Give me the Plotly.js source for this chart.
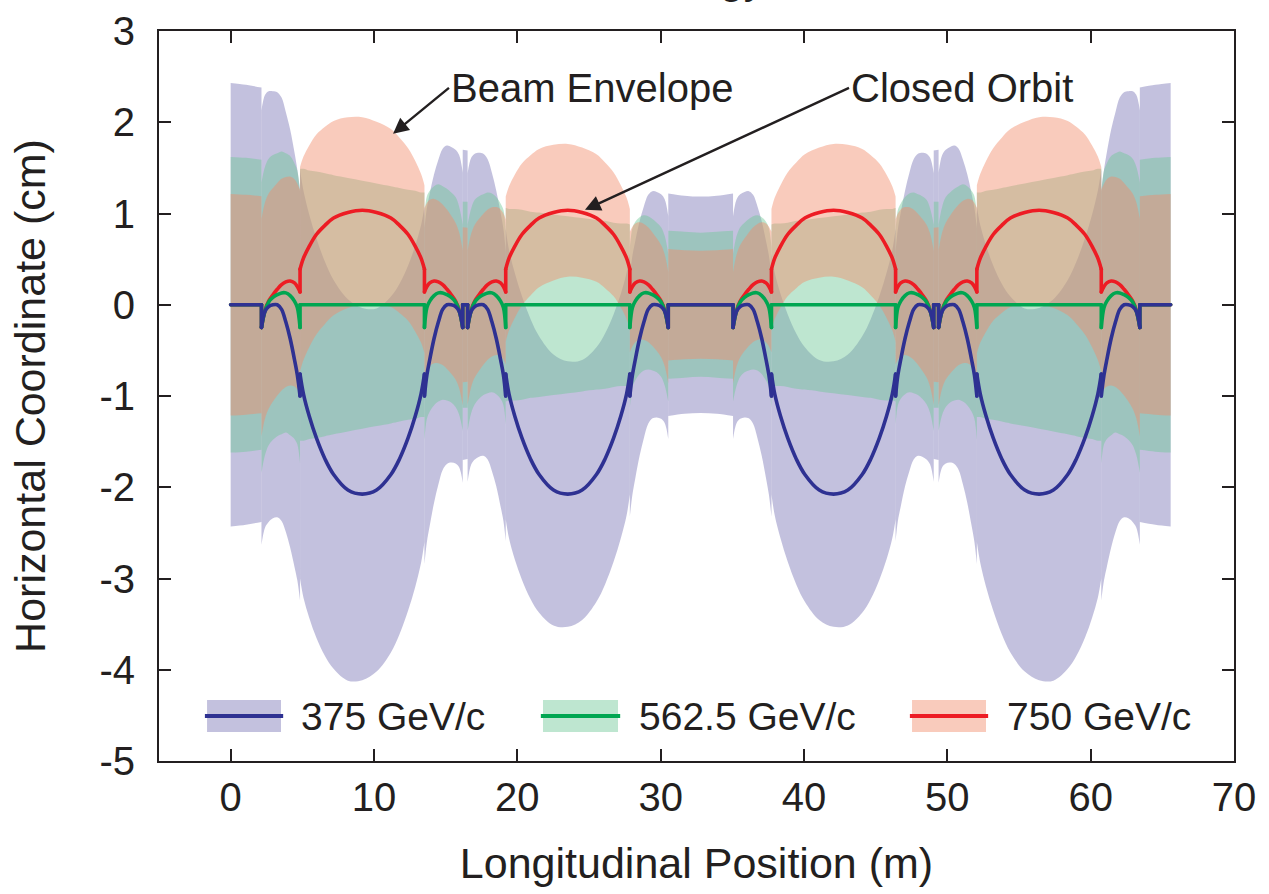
<!DOCTYPE html>
<html>
<head>
<meta charset="utf-8">
<script src="https://cdn.plot.ly/plotly-3.0.1.min.js"></script>
<style>
  html, body { margin: 0; padding: 0; background: #fff; }
  #chart { width: 1269px; height: 894px; }
  .scatterlayer .js-line { stroke-linecap: round; stroke-linejoin: round; }
</style>
</head>
<body>
<div id="chart"></div>
<script>
// Longitudinal sample positions (m); a repeated value marks an element edge where the orbit jumps
const positions = [
  0, 1.07, 2.15,
  2.15, 2.40, 2.65, 2.95, 3.25, 3.55, 3.85, 4.15, 4.45, 4.65, 4.84,
  4.84, 5.08, 5.48, 5.98, 6.58, 7.18, 8.18, 9.18, 10.18, 11.18, 11.78, 12.38, 12.88, 13.28, 13.52,
  13.52, 13.69, 13.89, 14.19, 14.49, 14.79, 15.09, 15.39, 15.69, 15.94, 16.19,
  16.19, 16.53,
  16.53, 16.78, 17.03, 17.33, 17.63, 17.93, 18.23, 18.53, 18.83, 19.03, 19.19,
  19.19, 19.42, 19.82, 20.32, 20.92, 21.52, 22.52, 23.52, 24.52, 25.52, 26.12, 26.72, 27.22, 27.62, 27.85,
  27.85, 28.03, 28.23, 28.53, 28.83, 29.13, 29.43, 29.73, 30.03, 30.28, 30.53,
  30.53, 31.66, 32.79, 33.92, 35.05,
  35.05, 35.30, 35.55, 35.85, 36.15, 36.45, 36.75, 37.05, 37.35, 37.55, 37.73,
  37.73, 37.96, 38.36, 38.86, 39.46, 40.06, 41.06, 42.06, 43.06, 44.06, 44.66, 45.26, 45.76, 46.16, 46.39,
  46.39, 46.55, 46.75, 47.05, 47.35, 47.65, 47.95, 48.25, 48.55, 48.80, 49.05,
  49.05, 49.39,
  49.39, 49.64, 49.89, 50.19, 50.49, 50.79, 51.09, 51.39, 51.69, 51.89, 52.06,
  52.06, 52.30, 52.70, 53.20, 53.80, 54.40, 55.40, 56.40, 57.40, 58.40, 59.00, 59.60, 60.10, 60.50, 60.74,
  60.74, 60.93, 61.13, 61.43, 61.73, 62.03, 62.33, 62.63, 62.93, 63.18, 63.43,
  63.43, 64.51, 65.58
];

// Closed orbit (cm) at 375 GeV/c
const orbit375 = [
  0, 0, 0,
  -0.25, -0.07, -0.02, 0, 0, -0.05, -0.19, -0.37, -0.6, -0.77, -1,
  -0.76, -0.98, -1.22, -1.46, -1.69, -1.86, -2.03, -2.075, -2.03, -1.86, -1.69, -1.46, -1.22, -0.98, -0.76,
  -1, -0.77, -0.6, -0.37, -0.19, -0.05, 0, 0, -0.02, -0.07, -0.25,
  0, 0,
  -0.25, -0.07, -0.02, 0, 0, -0.05, -0.19, -0.37, -0.6, -0.77, -1,
  -0.76, -0.98, -1.22, -1.46, -1.69, -1.86, -2.03, -2.075, -2.03, -1.86, -1.69, -1.46, -1.22, -0.98, -0.76,
  -1, -0.77, -0.6, -0.37, -0.19, -0.05, 0, 0, -0.02, -0.07, -0.25,
  0, 0, 0, 0, 0,
  -0.25, -0.07, -0.02, 0, 0, -0.05, -0.19, -0.37, -0.6, -0.77, -1,
  -0.76, -0.98, -1.22, -1.46, -1.69, -1.86, -2.03, -2.075, -2.03, -1.86, -1.69, -1.46, -1.22, -0.98, -0.76,
  -1, -0.77, -0.6, -0.37, -0.19, -0.05, 0, 0, -0.02, -0.07, -0.25,
  0, 0,
  -0.25, -0.07, -0.02, 0, 0, -0.05, -0.19, -0.37, -0.6, -0.77, -1,
  -0.76, -0.98, -1.22, -1.46, -1.69, -1.86, -2.03, -2.075, -2.03, -1.86, -1.69, -1.46, -1.22, -0.98, -0.76,
  -1, -0.77, -0.6, -0.37, -0.19, -0.05, 0, 0, -0.02, -0.07, -0.25,
  0, 0, 0
];

// Closed orbit (cm) at 562.5 GeV/c
const orbit5625 = [
  0, 0, 0,
  -0.25, -0.065, 0.03, 0.08, 0.11, 0.13, 0.13, 0.1, 0.04, -0.03, -0.25,
  0, 0, 0, 0, 0, 0, 0, 0, 0, 0, 0, 0, 0, 0, 0,
  -0.25, -0.03, 0.04, 0.1, 0.13, 0.13, 0.11, 0.08, 0.03, -0.065, -0.25,
  0, 0,
  -0.25, -0.065, 0.03, 0.08, 0.11, 0.13, 0.13, 0.1, 0.04, -0.03, -0.25,
  0, 0, 0, 0, 0, 0, 0, 0, 0, 0, 0, 0, 0, 0, 0,
  -0.25, -0.03, 0.04, 0.1, 0.13, 0.13, 0.11, 0.08, 0.03, -0.065, -0.25,
  0, 0, 0, 0, 0,
  -0.25, -0.065, 0.03, 0.08, 0.11, 0.13, 0.13, 0.1, 0.04, -0.03, -0.25,
  0, 0, 0, 0, 0, 0, 0, 0, 0, 0, 0, 0, 0, 0, 0,
  -0.25, -0.03, 0.04, 0.1, 0.13, 0.13, 0.11, 0.08, 0.03, -0.065, -0.25,
  0, 0,
  -0.25, -0.065, 0.03, 0.08, 0.11, 0.13, 0.13, 0.1, 0.04, -0.03, -0.25,
  0, 0, 0, 0, 0, 0, 0, 0, 0, 0, 0, 0, 0, 0, 0,
  -0.25, -0.03, 0.04, 0.1, 0.13, 0.13, 0.11, 0.08, 0.03, -0.065, -0.25,
  0, 0, 0
];

// Closed orbit (cm) at 750 GeV/c
const orbit750 = [
  0, 0, 0,
  -0.25, -0.06, 0.04, 0.11, 0.17, 0.22, 0.25, 0.26, 0.24, 0.2, 0.14,
  0.39, 0.51, 0.64, 0.77, 0.87, 0.95, 1.01, 1.035, 1.01, 0.95, 0.87, 0.77, 0.64, 0.51, 0.39,
  0.14, 0.2, 0.24, 0.26, 0.25, 0.22, 0.17, 0.11, 0.04, -0.06, -0.25,
  0, 0,
  -0.25, -0.06, 0.04, 0.11, 0.17, 0.22, 0.25, 0.26, 0.24, 0.2, 0.14,
  0.39, 0.51, 0.64, 0.77, 0.87, 0.95, 1.01, 1.035, 1.01, 0.95, 0.87, 0.77, 0.64, 0.51, 0.39,
  0.14, 0.2, 0.24, 0.26, 0.25, 0.22, 0.17, 0.11, 0.04, -0.06, -0.25,
  0, 0, 0, 0, 0,
  -0.25, -0.06, 0.04, 0.11, 0.17, 0.22, 0.25, 0.26, 0.24, 0.2, 0.14,
  0.39, 0.51, 0.64, 0.77, 0.87, 0.95, 1.01, 1.035, 1.01, 0.95, 0.87, 0.77, 0.64, 0.51, 0.39,
  0.14, 0.2, 0.24, 0.26, 0.25, 0.22, 0.17, 0.11, 0.04, -0.06, -0.25,
  0, 0,
  -0.25, -0.06, 0.04, 0.11, 0.17, 0.22, 0.25, 0.26, 0.24, 0.2, 0.14,
  0.39, 0.51, 0.64, 0.77, 0.87, 0.95, 1.01, 1.035, 1.01, 0.95, 0.87, 0.77, 0.64, 0.51, 0.39,
  0.14, 0.2, 0.24, 0.26, 0.25, 0.22, 0.17, 0.11, 0.04, -0.06, -0.25,
  0, 0, 0
];

// Beam envelope half-width (cm) around the orbit, 375 GeV/c
const half375 = [
  2.43, 2.41, 2.38,
  2.38, 2.37, 2.36, 2.34, 2.33, 2.32, 2.30, 2.29, 2.27, 2.25, 2.24,
  2.24, 2.23, 2.21, 2.19, 2.16, 2.13, 2.09, 2.04, 1.99, 1.95, 1.92, 1.89, 1.87, 1.85, 1.84,
  1.84, 1.83, 1.82, 1.80, 1.78, 1.76, 1.745, 1.73, 1.72, 1.71, 1.70,
  1.70, 1.69,
  1.69, 1.68, 1.675, 1.665, 1.655, 1.645, 1.635, 1.62, 1.61, 1.60, 1.59,
  1.59, 1.58, 1.57, 1.555, 1.535, 1.515, 1.485, 1.455, 1.425, 1.395, 1.375, 1.355, 1.34, 1.33, 1.32,
  1.32, 1.31, 1.30, 1.285, 1.27, 1.255, 1.245, 1.235, 1.23, 1.225, 1.22,
  1.22, 1.195, 1.185, 1.195, 1.22,
  1.22, 1.225, 1.23, 1.235, 1.245, 1.255, 1.27, 1.285, 1.30, 1.31, 1.32,
  1.32, 1.33, 1.34, 1.355, 1.375, 1.395, 1.425, 1.455, 1.485, 1.515, 1.535, 1.555, 1.57, 1.58, 1.59,
  1.59, 1.60, 1.61, 1.62, 1.635, 1.645, 1.655, 1.665, 1.675, 1.68, 1.69,
  1.69, 1.70,
  1.70, 1.71, 1.72, 1.73, 1.745, 1.76, 1.78, 1.80, 1.82, 1.83, 1.84,
  1.84, 1.85, 1.87, 1.89, 1.92, 1.95, 1.99, 2.04, 2.09, 2.13, 2.16, 2.19, 2.21, 2.23, 2.24,
  2.24, 2.25, 2.27, 2.29, 2.30, 2.32, 2.33, 2.34, 2.36, 2.37, 2.38,
  2.38, 2.41, 2.43
];

// Beam envelope half-width (cm), 562.5 GeV/c
const half5625 = [
  1.62, 1.61, 1.59,
  1.59, 1.58, 1.57, 1.56, 1.55, 1.55, 1.53, 1.53, 1.51, 1.50, 1.49,
  1.49, 1.49, 1.47, 1.46, 1.44, 1.42, 1.39, 1.36, 1.33, 1.30, 1.28, 1.26, 1.25, 1.23, 1.23,
  1.23, 1.22, 1.21, 1.20, 1.19, 1.17, 1.16, 1.15, 1.15, 1.14, 1.13,
  1.13, 1.13,
  1.13, 1.12, 1.12, 1.11, 1.10, 1.10, 1.09, 1.08, 1.07, 1.07, 1.06,
  1.06, 1.05, 1.05, 1.04, 1.02, 1.01, 0.99, 0.97, 0.95, 0.93, 0.92, 0.90, 0.89, 0.89, 0.88,
  0.88, 0.87, 0.87, 0.86, 0.85, 0.84, 0.83, 0.82, 0.82, 0.82, 0.81,
  0.81, 0.80, 0.79, 0.80, 0.81,
  0.81, 0.82, 0.82, 0.82, 0.83, 0.84, 0.85, 0.86, 0.87, 0.87, 0.88,
  0.88, 0.89, 0.89, 0.90, 0.92, 0.93, 0.95, 0.97, 0.99, 1.01, 1.02, 1.04, 1.05, 1.05, 1.06,
  1.06, 1.07, 1.07, 1.08, 1.09, 1.10, 1.10, 1.11, 1.12, 1.12, 1.13,
  1.13, 1.13,
  1.13, 1.14, 1.15, 1.15, 1.16, 1.17, 1.19, 1.20, 1.21, 1.22, 1.23,
  1.23, 1.23, 1.25, 1.26, 1.28, 1.30, 1.33, 1.36, 1.39, 1.42, 1.44, 1.46, 1.47, 1.49, 1.49,
  1.49, 1.50, 1.51, 1.53, 1.53, 1.55, 1.55, 1.56, 1.57, 1.58, 1.59,
  1.59, 1.61, 1.62
];

// Beam envelope half-width (cm), 750 GeV/c
const half750 = [
  1.215, 1.205, 1.19,
  1.19, 1.185, 1.18, 1.17, 1.165, 1.16, 1.15, 1.145, 1.135, 1.125, 1.12,
  1.12, 1.115, 1.105, 1.095, 1.08, 1.065, 1.045, 1.02, 0.995, 0.975, 0.96, 0.945, 0.935, 0.925, 0.92,
  0.92, 0.915, 0.91, 0.90, 0.89, 0.88, 0.873, 0.865, 0.86, 0.855, 0.85,
  0.85, 0.845,
  0.845, 0.84, 0.838, 0.833, 0.828, 0.823, 0.818, 0.81, 0.805, 0.80, 0.795,
  0.795, 0.79, 0.785, 0.778, 0.768, 0.758, 0.743, 0.728, 0.713, 0.698, 0.688, 0.678, 0.67, 0.665, 0.66,
  0.66, 0.655, 0.65, 0.643, 0.635, 0.628, 0.623, 0.618, 0.615, 0.613, 0.61,
  0.61, 0.598, 0.593, 0.598, 0.61,
  0.61, 0.613, 0.615, 0.618, 0.623, 0.628, 0.635, 0.643, 0.65, 0.655, 0.66,
  0.66, 0.665, 0.67, 0.678, 0.688, 0.698, 0.713, 0.728, 0.743, 0.758, 0.768, 0.778, 0.785, 0.79, 0.795,
  0.795, 0.80, 0.805, 0.81, 0.818, 0.823, 0.828, 0.833, 0.838, 0.84, 0.845,
  0.845, 0.85,
  0.85, 0.855, 0.86, 0.865, 0.873, 0.88, 0.89, 0.90, 0.91, 0.915, 0.92,
  0.92, 0.925, 0.935, 0.945, 0.96, 0.975, 0.995, 1.02, 1.045, 1.065, 1.08, 1.095, 1.105, 1.115, 1.12,
  1.12, 1.125, 1.135, 1.145, 1.15, 1.16, 1.165, 1.17, 1.18, 1.185, 1.19,
  1.19, 1.205, 1.215
];

const legendLabels = ['375 GeV/c', '562.5 GeV/c', '750 GeV/c'];
const xTickValues = [0, 10, 20, 30, 40, 50, 60, 70];
const xTickLabels = ['0', '10', '20', '30', '40', '50', '60', '70'];
const yTickValues = [-5, -4, -3, -2, -1, 0, 1, 2, 3];
const yTickLabels = ['-5', '-4', '-3', '-2', '-1', '0', '1', '2', '3'];

// ---------- styling ----------
const series = [
  { orbit: orbit375,  half: half375,  fill: 'rgba(122,117,182,0.45)', swatch: '#c3c1de', line: '#2e3192' },
  { orbit: orbit5625, half: half5625, fill: 'rgba(111,199,151,0.45)', swatch: '#bee6d0', line: '#00a651' },
  { orbit: orbit750,  half: half750,  fill: 'rgba(242,139,106,0.45)', swatch: '#f9cbbc', line: '#ed1c24' }
];

// split at element edges (repeated positions)
const segments = [];
let start = 0;
for (let i = 0; i < positions.length - 1; i++) {
  if (positions[i] === positions[i + 1]) { segments.push([start, i]); start = i + 1; }
}
segments.push([start, positions.length - 1]);

const traces = [];
// envelopes: blue, green, red (red on top)
series.forEach(s => {
  segments.forEach(([a, b]) => {
    const xs = positions.slice(a, b + 1);
    const lo = [], hi = [];
    for (let i = a; i <= b; i++) { lo.push(s.orbit[i] - s.half[i]); hi.push(s.orbit[i] + s.half[i]); }
    traces.push({ x: xs, y: lo, type: 'scatter', mode: 'lines', line: { width: 0, shape: 'spline' }, hoverinfo: 'skip', showlegend: false });
    traces.push({ x: xs, y: hi, type: 'scatter', mode: 'lines', fill: 'tonexty', fillcolor: s.fill, line: { width: 0, shape: 'spline' }, hoverinfo: 'skip', showlegend: false });
  });
});
// orbits: red, green, blue (blue on top)
[2, 1, 0].forEach(k => {
  const s = series[k];
  const xs = [], ys = [], cx = [], cy = [];
  segments.forEach(([a, b], j) => {
    for (let i = a; i <= b; i++) { xs.push(positions[i]); ys.push(s.orbit[i]); }
    xs.push(null); ys.push(null);
    if (j < segments.length - 1) {
      cx.push(positions[b], positions[b + 1], null);
      cy.push(s.orbit[b], s.orbit[b + 1], null);
    }
  });
  traces.push({ x: xs, y: ys, type: 'scatter', mode: 'lines', connectgaps: false, line: { color: s.line, width: 3.6, shape: 'spline' }, hoverinfo: 'skip', showlegend: false });
  traces.push({ x: cx, y: cy, type: 'scatter', mode: 'lines', connectgaps: false, line: { color: s.line, width: 3.6 }, hoverinfo: 'skip', showlegend: false });
});

const ink = '#231f20';
const font = 'Liberation Sans, Arial, Helvetica, sans-serif';

// manual legend (paper coords)
const legendBoxes = [[0.0447, 0.1135], [0.3572, 0.4270], [0.7005, 0.7693]];
const legendTextX = [0.1302, 0.4447, 0.7870];
const shapes = [];
const annotations = [];
series.forEach((s, k) => {
  const [x0, x1] = legendBoxes[k];
  shapes.push({ type: 'rect', xref: 'paper', yref: 'paper', x0: x0, x1: x1, y0: 0.0397, y1: 0.0836, fillcolor: s.swatch, line: { width: 0 }, layer: 'above' });
  shapes.push({ type: 'line', xref: 'paper', yref: 'paper', x0: x0 - 0.002, x1: x1 + 0.002, y0: 0.0616, y1: 0.0616, line: { color: s.line, width: 4 }, layer: 'above' });
  annotations.push({ xref: 'paper', yref: 'paper', x: legendTextX[k], y: 0.0616, xanchor: 'left', yanchor: 'middle', text: legendLabels[k], showarrow: false, font: { family: font, size: 39, color: ink } });
});

annotations.push({
  xref: 'x', yref: 'y', x: 11.33, y: 1.874, axref: 'x', ayref: 'y', ax: 15.23, ay: 2.377,
  text: 'Beam Envelope', xanchor: 'left', yanchor: 'middle', showarrow: true,
  arrowhead: 2, arrowsize: 1.3, arrowwidth: 2.4, arrowcolor: ink, font: { family: font, size: 40, color: ink }
});
annotations.push({
  xref: 'x', yref: 'y', x: 24.72, y: 1.04, axref: 'x', ayref: 'y', ax: 43.14, ay: 2.377,
  text: 'Closed Orbit', xanchor: 'left', yanchor: 'middle', showarrow: true,
  arrowhead: 2, arrowsize: 1.3, arrowwidth: 2.4, arrowcolor: ink, font: { family: font, size: 40, color: ink }
});
// title cut off at the top of the picture (only descenders visible)
annotations.push({
  xref: 'paper', yref: 'paper', x: 0.5665, y: 1.0722, xanchor: 'right', yanchor: 'middle',
  text: 'Energy', showarrow: false, font: { family: font, size: 43, color: ink }
});

const axisCommon = {
  ticks: 'inside', ticklen: 12, tickwidth: 2, tickcolor: ink,
  showline: true, linewidth: 2, linecolor: ink, mirror: 'ticks',
  showgrid: false, zeroline: false,
  tickfont: { family: font, size: 40, color: ink }
};

const layout = {
  width: 1269, height: 894,
  margin: { l: 159, r: 35, t: 31, b: 133 },
  paper_bgcolor: '#ffffff', plot_bgcolor: '#ffffff',
  showlegend: false,
  font: { family: font, color: ink },
  xaxis: Object.assign({}, axisCommon, {
    range: [-5, 70], tickmode: 'array', tickvals: xTickValues, ticktext: xTickLabels,
    ticklabelstandoff: 0,
    title: { text: 'Longitudinal Position (m)', font: { family: font, size: 43, color: ink }, standoff: 30 }
  }),
  yaxis: Object.assign({}, axisCommon, {
    range: [-5, 3], tickmode: 'array', tickvals: yTickValues, ticktext: yTickLabels,
    ticklabelstandoff: 14,
    title: { text: 'Horizontal Coordinate (cm)', font: { family: font, size: 43, color: ink }, standoff: 40 }
  }),
  shapes: shapes,
  annotations: annotations
};

Plotly.newPlot('chart', traces, layout, { staticPlot: true, displayModeBar: false });
</script>
</body>
</html>
